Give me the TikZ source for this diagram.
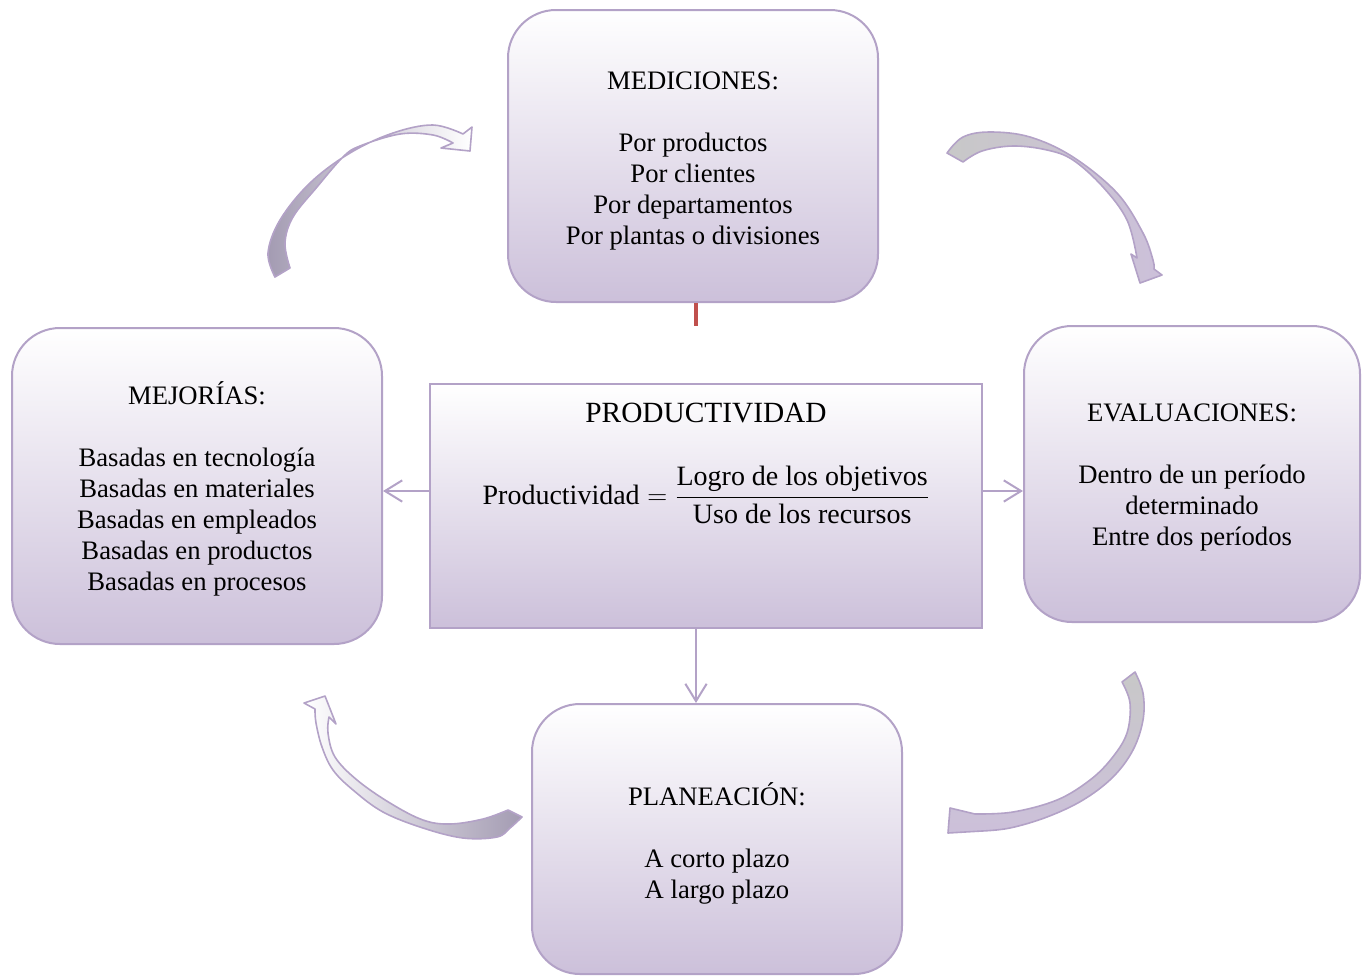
\documentclass[tikz,border=0pt]{standalone}
\usepackage{amsmath}
\usepackage{fontspec}
\setmainfont{Liberation Serif}
\usetikzlibrary{arrows.meta}
\definecolor{lavline}{RGB}{179,162,199}
\definecolor{lavfill}{RGB}{204,192,218}
\definecolor{stubred}{RGB}{192,80,77}
\definecolor{arrowgrey}{RGB}{200,200,200}
\definecolor{arrowdark}{RGB}{163,155,178}
% invisible strut that sets the height of a box's first line
\newcommand\capgap[1]{\rule{0pt}{#1}}

\begin{document}
\begin{tikzpicture}[x=0.75pt,y=-0.75pt,
  boxtext/.style={font=\fontsize{20}{23.25}\selectfont, align=center, inner sep=0pt},
  stagebox/.style={boxtext, draw=lavline, line width=1.5pt, rounded corners=36pt,
    top color=white, middle color=lavfill!45!white, bottom color=lavfill},
  corebox/.style={draw=lavline, line width=1.5pt,
    top color=white, middle color=lavfill!45!white, bottom color=lavfill, inner sep=0pt},
  conn/.style={draw=lavline, line width=1.5pt, -{Straight Barb[length=13pt,width=16pt]}},
  stub/.style={draw=stubred, line width=2.5pt},
  blockarrow/.style={draw=lavline, line width=1.2pt, line join=round},
  curve/.style={smooth, tension=0.6}]

\useasboundingbox (0,0) rectangle (1368,976);

% stage boxes around the core
\node[stagebox, minimum width=277.5pt, minimum height=219pt] (tbox) at (693,156)
  {\capgap{20.6pt}MEDICIONES:\\[23.25pt] Por productos\\ Por clientes\\ Por departamentos\\ Por plantas o divisiones};
\node[stagebox, minimum width=277.5pt, minimum height=237pt] (lbox) at (197,486)
  {\capgap{20.8pt}MEJORÍAS:\\[23.25pt] Basadas en tecnología\\ Basadas en materiales\\ Basadas en empleados\\ Basadas en productos\\ Basadas en procesos};
\node[stagebox, minimum width=252pt, minimum height=222pt] (rbox) at (1192,474)
  {\capgap{19.1pt}EVALUACIONES:\\[23.25pt] Dentro de un período\\ determinado\\ Entre dos períodos};
\node[stagebox, minimum width=277.5pt, minimum height=202.5pt] (bbox) at (717,839)
  {\capgap{23.8pt}PLANEACIÓN:\\[23.25pt] A corto plazo\\ A largo plazo};

% central box with the formula
\node[corebox, minimum width=414pt, minimum height=183pt] (cbox) at (706,506) {};
\node[inner sep=0pt, font=\fontsize{22}{26}\selectfont] (ctitle) at (706,413) {PRODUCTIVIDAD};
\node[inner sep=0pt, font=\fontsize{21}{25}\selectfont] (cform) at (706,495)
  {$\text{Productividad} = \dfrac{\text{Logro de los objetivos}}{\text{Uso de los recursos}}$};

% straight connectors
\coordinate (stubend) at (696,326);
\draw[stub] ([xshift=2.25pt]tbox.south) -- (stubend);
\draw[conn] ([yshift=11.25pt]cbox.west) -- ([yshift=11.25pt]cbox.west -| lbox.east);
\draw[conn] ([yshift=11.25pt]cbox.east) -- ([yshift=11.25pt]cbox.east -| rbox.west);
\draw[conn] ([xshift=-7.5pt]cbox.south) -- ([xshift=-7.5pt]cbox.south |- bbox.north);

% curved block arrows of the cycle
\filldraw[blockarrow, left color=arrowdark, right color=white]
  plot[curve] coordinates {(275,277) (268,253) (280,220) (310,183) (350,153) (393,133) (433,125) (463,134)}
  -- (472,127) -- (470,151) -- (441,148) -- (453,143)
  -- plot[curve] coordinates {(453,143) (433,135) (400,134) (360,146) (343,157) (317,187) (293,217) (285,243) (290,268)}
  -- cycle;

\filldraw[blockarrow, left color=arrowgrey, right color=lavfill]
  plot[curve] coordinates {(947,153) (963,137) (990,132) (1030,137) (1073,157) (1117,193) (1143,233) (1153,260) (1154,269)}
  -- (1162,275) -- (1140,283) -- (1131,254) -- (1137,258)
  -- plot[curve] coordinates {(1137,258) (1127,220) (1103,187) (1073,160) (1047,150) (1013,146) (982,151) (963,162)}
  -- cycle;

\filldraw[blockarrow, top color=arrowgrey, bottom color=lavfill]
  plot[curve] coordinates {(1135,672) (1143,693) (1143,720) (1133,750) (1113,777) (1083,800) (1047,817) (1010,828) (982,831)}
  -- (948,833) -- (950,808) -- (975,814)
  -- plot[curve] coordinates {(975,814) (1013,812) (1057,800) (1090,780) (1112,758) (1127,733) (1130,703) (1122,682)}
  -- cycle;

\filldraw[blockarrow, left color=white, right color=arrowdark]
  plot[curve] coordinates {(522,817) (510,828) (497,837) (463,838) (423,828) (383,812) (353,790) (333,770) (322,747) (316,723) (315,709)}
  -- (304,703) -- (325,696) -- (336,724) -- (329,717)
  -- plot[curve] coordinates {(329,717) (328,733) (335,757) (357,780) (390,803) (423,820) (450,824) (483,819) (508,810)}
  -- cycle;

\end{tikzpicture}
\end{document}
